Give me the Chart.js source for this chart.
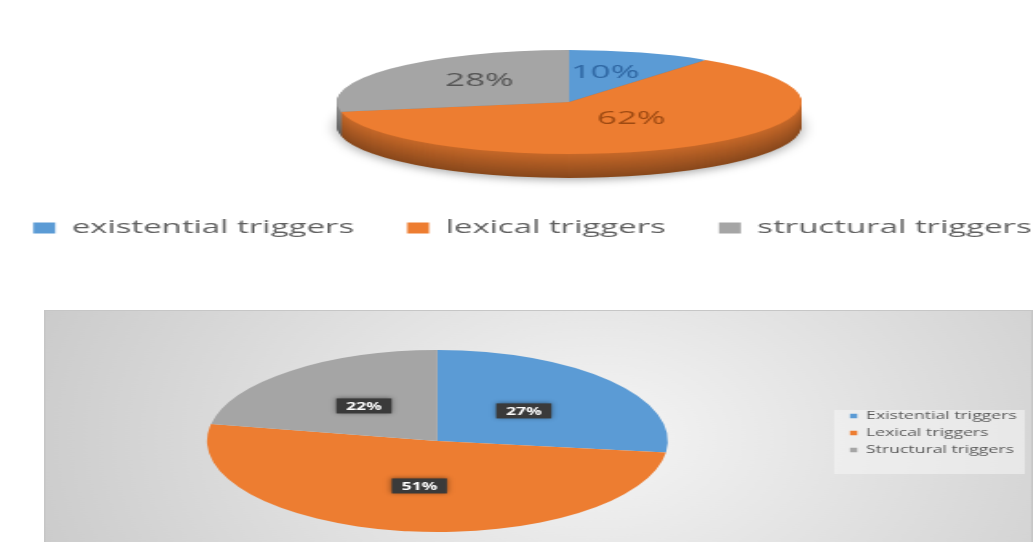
<!DOCTYPE html>
<html>
<head>
<meta charset="utf-8">
<script src="https://cdn.jsdelivr.net/npm/chart.js@4.4.1/dist/chart.umd.min.js"></script>
<style>
  html, body { margin: 0; padding: 0; background: #fff; }
  body { width: 1036px; height: 542px; overflow: hidden; position: relative; }
  .stretch { position: absolute; transform-origin: 0 0; }
  /* the source picture is stretched sideways, so the canvases are too */
  #topWrap { left: -108px; top: 0; width: 700px; height: 262px; transform: scaleX(1.83); }
  #bottomWrap { left: 44px; top: 310px; width: 618px; height: 232px; transform: scaleX(1.6); }
</style>
</head>
<body>
<div id="topWrap" class="stretch"><canvas id="topChart"></canvas></div>
<div id="bottomWrap" class="stretch"><canvas id="bottomChart"></canvas></div>
<script>
const topLabels = ['existential triggers', 'lexical triggers', 'structural triggers'];
const topValues = [10, 62, 28];
const bottomLabels = ['Existential triggers', 'Lexical triggers', 'Structural triggers'];
const bottomValues = [27, 51, 22];
const sliceColors = ['#5b9bd5', '#ed7d31', '#a5a5a5'];

function shade(hex, f) {
  const n = parseInt(hex.slice(1), 16);
  const r = Math.round(((n >> 16) & 255) * f);
  const g = Math.round(((n >> 8) & 255) * f);
  const b = Math.round((n & 255) * f);
  return 'rgb(' + r + ',' + g + ',' + b + ')';
}

// squashes the pie into an ellipse, optional 3D side, and % labels
function pieGeom(chart, opts) {
  const arcs = chart.getDatasetMeta(0).data;
  const ox = arcs[0].x, oy = arcs[0].y, R = arcs[0].outerRadius;
  return {
    arcs, ox, oy,
    tx: ox + (opts.dx || 0), ty: oy + (opts.dy || 0),
    sx: opts.rx / R, sy: opts.ry / R
  };
}

const ellipsePie = {
  id: 'ellipsePie',
  beforeDatasetsDraw(chart, args, opts) {
    const ctx = chart.ctx;
    const g = pieGeom(chart, opts);
    const depth = opts.depth || 0;
    for (let d = depth; d > 0; d--) {
      const t = d / depth;
      ctx.save();
      if (d === depth) {
        ctx.shadowColor = 'rgba(0,0,0,0.35)';
        ctx.shadowBlur = 8;
        ctx.shadowOffsetY = 2;
      }
      ctx.translate(g.tx, g.ty + d);
      ctx.scale(g.sx, g.sy);
      ctx.translate(-g.ox, -g.oy);
      g.arcs.forEach((arc, i) => {
        ctx.beginPath();
        ctx.moveTo(g.ox, g.oy);
        ctx.arc(g.ox, g.oy, arc.outerRadius, arc.startAngle, arc.endAngle);
        ctx.closePath();
        ctx.fillStyle = shade(sliceColors[i], 0.84 - 0.26 * t);
        ctx.fill();
      });
      ctx.restore();
    }
    ctx.save();
    ctx.translate(g.tx, g.ty);
    ctx.scale(g.sx, g.sy);
    ctx.translate(-g.ox, -g.oy);
  },
  afterDatasetsDraw(chart, args, opts) {
    const ctx = chart.ctx;
    ctx.restore();
    const g = pieGeom(chart, opts);
    const values = chart.data.datasets[0].data;
    const total = values.reduce((a, b) => a + b, 0);
    ctx.save();
    ctx.font = opts.labelFont;
    ctx.textAlign = 'center';
    ctx.textBaseline = 'middle';
    g.arcs.forEach((arc, i) => {
      const p = arc.getCenterPoint();
      const x = g.tx + (p.x - g.ox) * g.sx;
      const y = g.ty + (p.y - g.oy) * g.sy + (opts.labelDy || 0);
      const text = Math.round(values[i] / total * 100) + '%';
      if (opts.labelBox) {
        const w = ctx.measureText(text).width + 12;
        const h = 15;
        ctx.save();
        ctx.shadowColor = 'rgba(0,0,0,0.45)';
        ctx.shadowBlur = 4;
        ctx.fillStyle = opts.labelBox;
        ctx.fillRect(x - w / 2, y - h / 2, w, h);
        ctx.restore();
      }
      ctx.fillStyle = opts.labelColors[i];
      ctx.fillText(text, x, y + 1);
    });
    ctx.restore();
  }
};

const boxBackground = {
  id: 'boxBackground',
  beforeDraw(chart) {
    const { ctx, width, height, legend } = chart;
    ctx.save();
    const cx = width * 0.56, cy = height * 0.55;
    const grad = ctx.createRadialGradient(cx, cy, 10, cx, cy, width * 0.6);
    grad.addColorStop(0, '#f4f4f4');
    grad.addColorStop(1, '#cbcbcb');
    ctx.fillStyle = grad;
    ctx.fillRect(0, 0, width, height);
    ctx.strokeStyle = '#c6c6c6';
    ctx.lineWidth = 1;
    ctx.strokeRect(0.5, 0.5, width - 1, height + 4);
    // light panel behind the legend
    const lp = legend.options.labels.padding;
    const mid = (legend.top + legend.bottom + lp) / 2;
    ctx.fillStyle = 'rgba(245,245,245,0.55)';
    ctx.fillRect(legend.left - 4, mid - 26, legend.right - legend.left - 1, 64);
    ctx.restore();
  }
};

new Chart(document.getElementById('topChart'), {
  type: 'pie',
  data: {
    labels: topLabels,
    datasets: [{ data: topValues, backgroundColor: sliceColors, borderWidth: 0, clip: false }]
  },
  options: {
    responsive: true,
    maintainAspectRatio: false,
    animation: false,
    events: [],
    layout: { padding: { top: 14, left: 0, right: 0, bottom: 15 } },
    plugins: {
      tooltip: { enabled: false },
      legend: {
        position: 'bottom',
        labels: {
          boxWidth: 12, boxHeight: 11, padding: 29, color: '#606060',
          font: { family: 'Open Sans', size: 18 }
        }
      },
      ellipsePie: {
        rx: 127, ry: 52, dx: 20, depth: 24, labelDy: -6,
        labelFont: '19px "Open Sans"',
        labelColors: ['#2f67a3', '#9e4a12', '#555555']
      }
    }
  },
  plugins: [ellipsePie]
});

new Chart(document.getElementById('bottomChart'), {
  type: 'pie',
  data: {
    labels: bottomLabels,
    datasets: [{ data: bottomValues, backgroundColor: sliceColors, borderWidth: 0, clip: false }]
  },
  options: {
    responsive: true,
    maintainAspectRatio: false,
    animation: false,
    events: [],
    layout: { padding: { top: 14, left: 0, right: 0, bottom: 0 } },
    plugins: {
      tooltip: { enabled: false },
      legend: {
        position: 'right',
        labels: {
          boxWidth: 4.5, boxHeight: 4.5, padding: 6, color: '#595959',
          font: { family: 'Open Sans', size: 11 }
        }
      },
      ellipsePie: {
        rx: 144, ry: 91, dx: -3, dy: 8,
        labelFont: 'bold 11px "Open Sans"',
        labelColors: ['#ffffff', '#ffffff', '#ffffff'],
        labelBox: '#3a3a3a'
      }
    }
  },
  plugins: [boxBackground, ellipsePie]
});
</script>
</body>
</html>
